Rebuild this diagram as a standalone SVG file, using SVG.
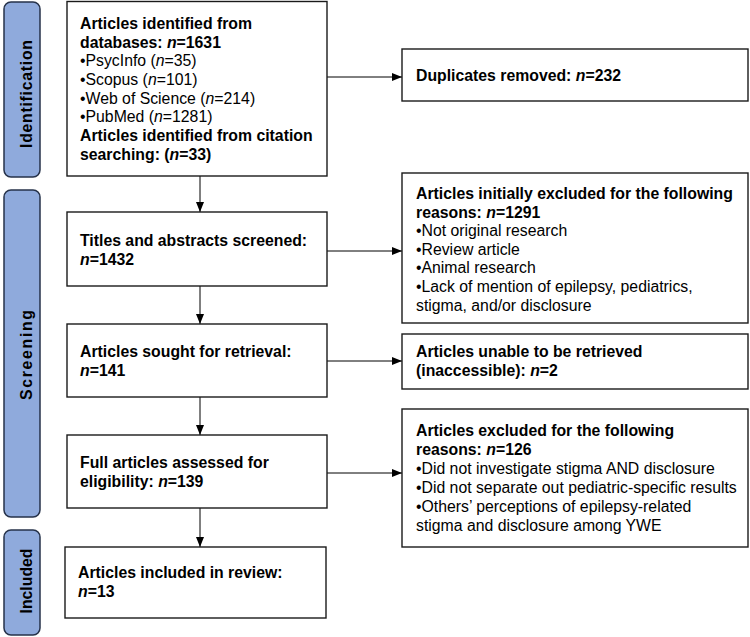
<svg xmlns="http://www.w3.org/2000/svg" width="750" height="637" viewBox="0 0 750 637">
<defs>
<marker id="ah" markerUnits="userSpaceOnUse" markerWidth="10" markerHeight="8" refX="10" refY="4" orient="auto">
<path d="M0,0 L10,4 L0,8 z" fill="#000"/>
</marker>
<style>
.box{fill:#fff;stroke:#1a1a1a;stroke-width:1.4}
.bar{fill:#8faadc;stroke:#26324a;stroke-width:1.5}
.t{font-family:"Liberation Sans",Arial,sans-serif;font-size:15.8px;fill:#000}
.b{font-weight:bold}
.i{font-style:italic}
.lbl{font-family:"Liberation Sans",Arial,sans-serif;font-size:15.8px;font-weight:bold;fill:#000;text-anchor:middle}
.c{stroke:#000;stroke-width:1;fill:none;marker-end:url(#ah)}
</style>
</defs>
<rect width="750" height="637" fill="#fff"/>
<g id="phase-identification">
<rect class="bar" x="4" y="2" width="36" height="175" rx="7"/>
<text class="lbl" transform="translate(32,94) rotate(-90)" textLength="108" lengthAdjust="spacing">Identification</text>
</g>
<g id="phase-screening">
<rect class="bar" x="4" y="190" width="36" height="327" rx="7"/>
<text class="lbl" transform="translate(32,355) rotate(-90)" textLength="90" lengthAdjust="spacing">Screening</text>
</g>
<g id="phase-included">
<rect class="bar" x="4" y="530" width="36" height="105" rx="7"/>
<text class="lbl" transform="translate(32,581) rotate(-90)">Included</text>
</g>
<g id="connectors">
<line class="c" x1="327" y1="77" x2="402" y2="77"/>
<line class="c" x1="327" y1="251" x2="402" y2="251"/>
<line class="c" x1="327" y1="361" x2="402" y2="361"/>
<line class="c" x1="327" y1="473" x2="402" y2="473"/>
<line class="c" x1="200" y1="176" x2="200" y2="212"/>
<line class="c" x1="200" y1="286" x2="200" y2="324"/>
<line class="c" x1="200" y1="397" x2="200" y2="435"/>
<line class="c" x1="200" y1="508" x2="200" y2="547"/>
</g>
<g id="identified">
<rect class="box" x="67" y="1.5" width="260" height="174.5"/>
<text class="t b" x="80" y="29">Articles identified from</text>
<text class="t b" x="80" y="47.7">databases: <tspan class="i">n</tspan>=1631</text>
<text class="t" x="80" y="66.3">•PsycInfo (<tspan class="i">n</tspan>=35)</text>
<text class="t" x="80" y="85">•Scopus (<tspan class="i">n</tspan>=101)</text>
<text class="t" x="80" y="103.6">•Web of Science (<tspan class="i">n</tspan>=214)</text>
<text class="t" x="80" y="122.3">•PubMed (<tspan class="i">n</tspan>=1281)</text>
<text class="t b" x="80" y="141">Articles identified from citation</text>
<text class="t b" x="80" y="159.6">searching: (<tspan class="i">n</tspan>=33)</text>
</g>
<g id="duplicates">
<rect class="box" x="402" y="49" width="346" height="52"/>
<text class="t b" x="416" y="81">Duplicates removed: <tspan class="i">n</tspan>=232</text>
</g>
<g id="screened">
<rect class="box" x="67" y="212" width="260" height="74"/>
<text class="t b" x="80" y="246">Titles and abstracts screened:</text>
<text class="t b" x="80" y="265"><tspan class="i">n</tspan>=1432</text>
</g>
<g id="excluded-initial">
<rect class="box" x="402" y="173" width="346" height="150"/>
<text class="t b" x="416" y="199">Articles initially excluded for the following</text>
<text class="t b" x="416" y="217.6">reasons: <tspan class="i">n</tspan>=1291</text>
<text class="t" x="416" y="236.2">•Not original research</text>
<text class="t" x="416" y="254.8">•Review article</text>
<text class="t" x="416" y="273.4">•Animal research</text>
<text class="t" x="416" y="292">•Lack of mention of epilepsy, pediatrics,</text>
<text class="t" x="416" y="310.6">stigma, and/or disclosure</text>
</g>
<g id="sought">
<rect class="box" x="67" y="324" width="260" height="73"/>
<text class="t b" x="80" y="357">Articles sought for retrieval:</text>
<text class="t b" x="80" y="375.5"><tspan class="i">n</tspan>=141</text>
</g>
<g id="not-retrieved">
<rect class="box" x="402" y="334" width="346" height="55"/>
<text class="t b" x="416" y="357">Articles unable to be retrieved</text>
<text class="t b" x="416" y="376">(inaccessible): <tspan class="i">n</tspan>=2</text>
</g>
<g id="assessed">
<rect class="box" x="67" y="435" width="260" height="73"/>
<text class="t b" x="80" y="468">Full articles assessed for</text>
<text class="t b" x="80" y="487">eligibility: <tspan class="i">n</tspan>=139</text>
</g>
<g id="excluded-full">
<rect class="box" x="402" y="409" width="346" height="138"/>
<text class="t b" x="416" y="436">Articles excluded for the following</text>
<text class="t b" x="416" y="455">reasons: <tspan class="i">n</tspan>=126</text>
<text class="t" x="416" y="474">•Did not investigate stigma AND disclosure</text>
<text class="t" x="416" y="493">•Did not separate out pediatric-specific results</text>
<text class="t" x="416" y="512">•Others’ perceptions of epilepsy-related</text>
<text class="t" x="416" y="531">stigma and disclosure among YWE</text>
</g>
<g id="included">
<rect class="box" x="65" y="547" width="261" height="71"/>
<text class="t b" x="78" y="578">Articles included in review:</text>
<text class="t b" x="78" y="597"><tspan class="i">n</tspan>=13</text>
</g>
</svg>
